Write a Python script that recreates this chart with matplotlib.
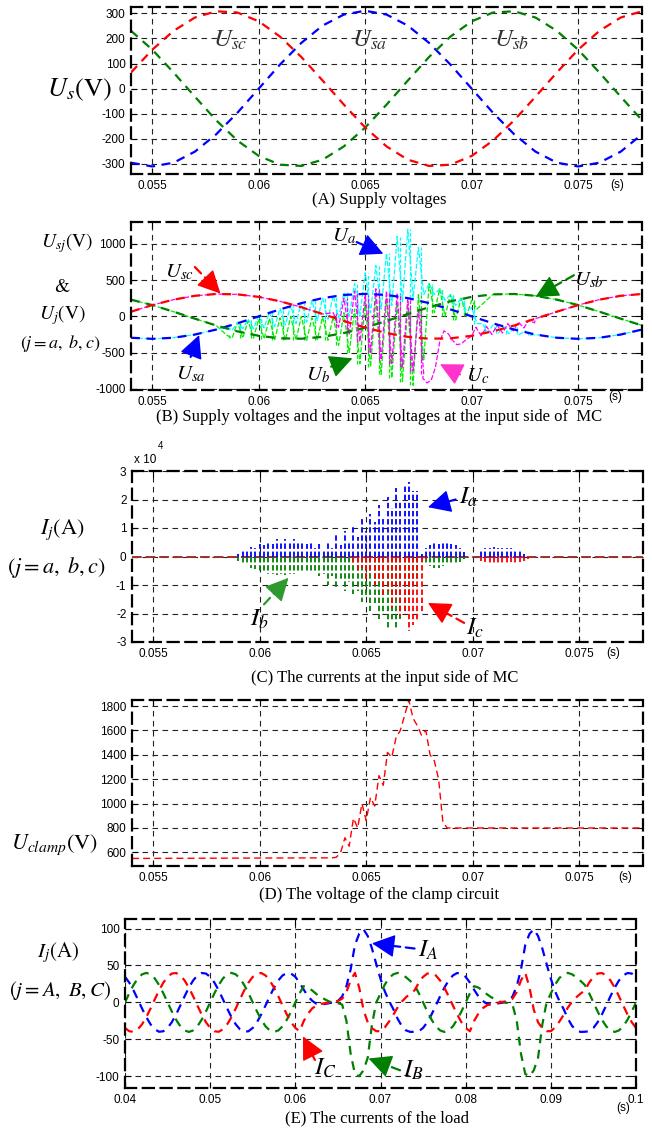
import numpy as np
import matplotlib
matplotlib.use('Agg')
import matplotlib.pyplot as plt

plt.rcParams['font.family'] = ['Liberation Sans', 'DejaVu Sans']
plt.rcParams['mathtext.fontset'] = 'stix'

W, H = 652, 1128

# ---------------- data ----------------
# (A)/(B) supply voltages, one sample per ms from 0.054 s to 0.078 s
t_s = np.linspace(0.054, 0.078, 25)
usa = [-295, -310, -295, -251, -182, -96, 0, 96, 182, 251, 295, 310, 295, 251, 182, 96, 0,
       -96, -182, -251, -295, -310, -295, -251, -182]
usb = [230, 155, 64, -32, -126, -207, -268, -303, -308, -283, -230, -155, -64, 32, 126, 207,
       268, 303, 308, 283, 230, 155, 64, -32, -126]
usc = [64, 155, 230, 283, 308, 303, 268, 207, 126, 32, -64, -155, -230, -283, -308, -303,
       -268, -207, -126, -32, 64, 155, 230, 283, 308]

# (B) switching envelopes of the input voltages (upper / lower), every 0.5 ms
ua_hi = [-150, -90, -40, 10, 60, 110, 150, 190, 220, 250, 290, 330, 450, 600, 700, 870, 1100,
         1200, 950, 450, 380, 300, 250, 120, -100, -120, -140, -150, -200]
ua_lo = [-190, -170, -170, -160, -140, -120, -100, -80, -60, -40, -20, 0, 0, 50, 100, 150, 200,
         250, 300, 300, 220, 150, 80, -100, -220, -230, -240, -250, -260]
ub_hi = [-260, -80, -60, -40, -30, -20, 0, 0, -20, -10, 0, 50, 100, 200, 250, 250, 200, 150,
         300, 450, 380, 300, 250, 220]
ub_lo = [-300, -300, -300, -310, -320, -330, -330, -330, -320, -330, -400, -500, -650, -700,
         -800, -850, -900, -950, -600, 50, 0, -50, 0, 100]
uc_hi = [50, 250, 350, 300, 380, 350, 320, 250, 100]
uc_lo = [-150, -250, -350, -500, -600, -650, -700, -750, -800]
uc_t2 = [0.0677, 0.0679, 0.0681, 0.0683, 0.0685, 0.0687, 0.0689, 0.0691, 0.0693, 0.0695,
         0.0697, 0.0700]
uc_v2 = [-850, -917, -880, -700, -350, -200, -240, -330, -390, -380, -330, -270]
uc_hi3 = [-150, -140, -120, -100, -80, -50]
uc_lo3 = [-270, -250, -230, -200, -160, -90]

# (C) input currents (x 10^4 A), spikes every 0.2 ms
ia = [0.1, 0.25, 0.2, 0.35, 0.3, 0.45, 0.4, 0.55, 0.45, 0.6,
      0.5, 0.6, 0.55, 0.6, 0.5, 0.55, 0.45, 0.5, 0.3, 0.45,
      0.2, 0.5, 0.3, 0.8, 0.4, 0.9, 0.5, 1.1, 0.7, 1.3,
      0.9, 1.5, 1.2, 1.8, 1.4, 2.1, 1.7, 2.4, 2.0, 2.5,
      2.6, 2.3, 2.3, 0.1, 0.3, 0.4, 0.5, 0.45, 0.55, 0.5,
      0.45, 0.4, 0.3, 0.15, 0.0, 0.0, 0.0, 0.2, 0.3, 0.3,
      0.35, 0.3, 0.3, 0.3, 0.3, 0.25, 0.2, 0.1, 0.0]
ib = [-0.15, -0.3, -0.3, -0.4, -0.45, -0.5, -0.55, -0.6, -0.6, -0.65,
      -0.6, -0.65, -0.6, -0.6, -0.55, -0.55, -0.5, -0.55, -0.5, -0.7,
      -0.6, -1.0, -0.7, -1.1, -0.8, -1.2, -0.9, -1.3, -1.2, -1.6,
      -1.4, -1.9, -1.7, -2.2, -2.0, -2.5, -2.3, -2.5, -2.2, -2.0,
      -1.5, -1.0, -0.8, -0.2, -0.3, -0.35, -0.4, -0.4, -0.35, -0.3,
      -0.3, -0.25, -0.2, -0.1, -0.05]
ic = [-0.3, -0.5, -0.4, -0.8, -0.6, -1.0, -0.9, -1.4, -1.2, -1.8,
      -1.5, -2.1, -1.9, -2.6, -2.4, -2.3, -2.0, -0.1, 0, 0,
      0, 0, 0, 0, 0, 0, 0, 0, 0, 0,
      -0.15, -0.2, -0.25, -0.3, -0.25, -0.3, -0.25, -0.2, -0.25, -0.2,
      -0.15, -0.1]
ia_t0, ib_t0, ic_t0 = 0.0590, 0.0590, 0.0644
c_base_t = [0.054, 0.078]
c_base_v = [0, 0]

# (D) clamp voltage
d_t = [0.0540, 0.0634, 0.0636, 0.0638, 0.0640, 0.0642, 0.0644, 0.0646, 0.0648, 0.0650,
       0.0652, 0.0654, 0.0656, 0.0658, 0.0660, 0.0662, 0.0664, 0.0666, 0.0668, 0.0670,
       0.0672, 0.0674, 0.0676, 0.0678, 0.0680, 0.0682, 0.0684, 0.0686, 0.0688, 0.0780]
d_v = [550, 555, 560, 600, 720, 650, 880, 800, 1000, 860,
       1050, 980, 1230, 1150, 1420, 1380, 1540, 1600, 1720, 1850,
       1700, 1640, 1560, 1600, 1400, 1350, 1200, 850, 800, 800]

# (E) load currents, every 0.5 ms from 0.04 s to 0.1 s
t_e = np.linspace(0.04, 0.1, 121)
ia_load = [34.6, 26.8, 16.3, 4.2, -8.3, -20, -29.7, -36.5, -39.8, -39.1,
           -34.6, -26.8, -16.3, -4.2, 8.3, 20, 29.7, 36.5, 39.8, 39.1,
           34.6, 26.8, 16.3, 4.2, -8.3, -20, -29.7, -36.5, -39.8, -39.1,
           -34.6, -26.8, -16.3, -4.2, 8.3, 20, 29.7, 36.5, 39.8, 39.1,
           34.6, 26.8,
           17, 8, 2, -2, -3, -2, -1, 0, 2, 8, 22, 45, 78, 93, 99, 90, 73, 52, 32, 15, 2, -9,
           -22, -32, -38, -40,
           -39.8, -39.1, -34.6, -26.8, -16.3, -4.2, 8.3, 20, 29.7, 36.5, 39.8, 39.1, 34.6, 26.8,
           17, 8, 2, -2, -3, -2, -1, 0, 2, 8, 22, 45, 78, 93, 99, 90, 73, 52, 32, 15, 2, -9,
           -22, -32, -38, -40,
           -39.8, -39.1, -34.6, -26.8, -16.3, -4.2, 8.3, 20, 29.7, 36.5, 39.8, 39.1, 34.6]
ib_load = [0, 12.4, 23.5, 32.4, 38.0, 40, 38.0, 32.4, 23.5, 12.4,
           0, -12.4, -23.5, -32.4, -38.0, -40, -38.0, -32.4, -23.5, -12.4,
           0, 12.4, 23.5, 32.4, 38.0, 40, 38.0, 32.4, 23.5, 12.4,
           0, -12.4, -23.5, -32.4, -38.0, -40, -38.0, -32.4, -23.5, -12.4,
           0, 12.4,
           22, 20, 16, 11, 7, 4, 1, 0, -1, -3, -25, -70, -97, -100, -92, -75, -30, 0, 12, 24,
           33, 38, 40, 38, 34, 29,
           23.5, 12.4, 0, -12.4, -23.5, -32.4, -38.0, -40, -38.0, -32.4, -23.5, -12.4, 0, 12.4,
           22, 20, 16, 11, 7, 4, 1, 0, -1, -3, -25, -70, -97, -100, -92, -75, -30, 0, 12, 24,
           33, 38, 40, 38, 34, 29,
           23.5, 12.4, 0, -12.4, -23.5, -32.4, -38.0, -40, -38.0, -32.4, -23.5, -12.4, 0]
ic_load = [-34.6, -39.1, -39.8, -36.5, -29.7, -20, -8.3, 4.2, 16.3, 26.8,
           34.6, 39.1, 39.8, 36.5, 29.7, 20, 8.3, -4.2, -16.3, -26.8,
           -34.6, -39.1, -39.8, -36.5, -29.7, -20, -8.3, 4.2, 16.3, 26.8,
           34.6, 39.1, 39.8, 36.5, 29.7, 20, 8.3, -4.2, -16.3, -26.8,
           -34.6, -39.1,
           -25, -15, -8, -4, -2, -1, 0, 1, 2, 5, 14, 30, 40, 20, -10, -27, -35, -39, -39, -34,
           -26, -17, -7, 1, 7, 12,
           16.3, 26.8, 34.6, 39.1, 39.8, 36.5, 29.7, 20, 8.3, -4.2, -16.3, -26.8, -34.6, -39.1,
           -25, -15, -8, -4, -2, -1, 0, 1, 2, 5, 14, 30, 40, 20, -10, -27, -35, -39, -39, -34,
           -26, -17, -7, 1, 7, 12,
           16.3, 26.8, 34.6, 39.1, 39.8, 36.5, 29.7, 20, 8.3, -4.2, -16.3, -26.8, -34.6]

x_ticks = [0.055, 0.06, 0.065, 0.07, 0.075]
x_labels = ['0.055', '0.06', '0.065', '0.07', '0.075']
e_ticks = [0.04, 0.05, 0.06, 0.07, 0.08, 0.09, 0.1]
e_labels = ['0.04', '0.05', '0.06', '0.07', '0.08', '0.09', '0.1']

GREEN = '#008000'
SERIF = 'STIXGeneral'


def zigzag(t0, hi, lo, dt=0.0005):
    n = len(hi)
    tk = t0 + dt * np.arange(n)
    tz = np.empty(2 * n)
    vz = np.empty(2 * n)
    tz[0::2] = tk
    tz[1::2] = tk + dt / 2
    vz[0::2] = hi
    vz[1::2] = lo
    return tz, vz


def spikes(ax, t0, hi, lo, color, dt=0.0005):
    # vertical switching strokes between the two envelopes
    tk = t0 + dt * np.arange(len(hi))
    ax.vlines(tk + dt / 4, lo, hi, colors=color, linestyles=(0, (3, 1.5)), linewidth=0.9)


def add_ax(left, top, right, bottom):
    return fig.add_axes([left / W, 1 - bottom / H, (right - left) / W, (bottom - top) / H])


def setup(ax, xlim, ylim, xt, xl, yt, yl):
    ax.set_xlim(xlim)
    ax.set_ylim(ylim)
    ax.set_xticks(xt)
    ax.set_xticklabels(xl)
    ax.set_yticks(yt)
    ax.set_yticklabels(yl)
    ax.grid(True, color='#222222', linestyle=(0, (5, 4)), linewidth=0.8)
    ax.set_axisbelow(True)
    for s in ax.spines.values():
        s.set_linestyle((0, (5, 3)))
        s.set_linewidth(1.6)
    ax.tick_params(direction='in', length=4, labelsize=8.5, top=True, right=True, pad=4)


def ftext(x, y, s, **kw):
    fig.text(x / W, 1 - y / H, s, ha='center', va='center', **kw)


def arrow(ax, start, tip, color):
    ax.annotate('', xy=tip, xytext=start,
                arrowprops=dict(arrowstyle='-', color=color, lw=1.6, linestyle=(0, (4, 2.5)),
                                shrinkA=0, shrinkB=5))
    mid = (start[0] + 0.75 * (tip[0] - start[0]), start[1] + 0.75 * (tip[1] - start[1]))
    ax.annotate('', xy=tip, xytext=mid,
                arrowprops=dict(arrowstyle='-|>,head_length=0.9,head_width=0.45', color=color,
                                lw=1.0, shrinkA=0, shrinkB=0, mutation_scale=16))


fig = plt.figure(figsize=(W / 100, H / 100), dpi=100)
sup_style = dict(linestyle=(0, (4, 3)), linewidth=1.6)

# ---------------- (A) ----------------
axA = add_ax(131, 7, 642, 174)
axA.plot(t_s, usa, color='blue', **sup_style)
axA.plot(t_s, usb, color=GREEN, **sup_style)
axA.plot(t_s, usc, color='red', **sup_style)
setup(axA, (0.054, 0.078), (-340, 325), x_ticks, x_labels,
      [-300, -200, -100, 0, 100, 200, 300], ['-300', '-200', '-100', '0', '100', '200', '300'])
for lab, x in [(r'$U_{sc}$', 0.05865), (r'$U_{sa}$', 0.06522), (r'$U_{sb}$', 0.07187)]:
    axA.text(x, 194, lab, fontsize=18, color='#333333', ha='center', va='center')
ftext(79, 90, r'$U_s$(V)', fontsize=19, family=SERIF)
ftext(617, 185, '(s)', fontsize=8.5)
ftext(379, 200, '(A) Supply voltages', fontsize=12, family='Liberation Serif')

# ---------------- (B) ----------------
axB = add_ax(131, 222, 642, 390)
ta = np.asarray(t_s)
za_t, za_v = zigzag(0.0585, ua_hi, ua_lo)
ua_t = np.concatenate([ta[ta < 0.05849], za_t, ta[ta > 0.07299]])
ua_v = np.concatenate([np.asarray(usa)[ta < 0.05849], za_v, np.asarray(usa)[ta > 0.07299]])
zb_t, zb_v = zigzag(0.0585, ub_hi, ub_lo)
ub_t = np.concatenate([ta[ta < 0.05849], zb_t, ta[ta > 0.07099]])
ub_v = np.concatenate([np.asarray(usb)[ta < 0.05849], zb_v, np.asarray(usb)[ta > 0.07099]])
zc_t, zc_v = zigzag(0.0635, uc_hi, uc_lo)
zc3_t, zc3_v = zigzag(0.0702, uc_hi3, uc_lo3)
uc_t = np.concatenate([ta[ta < 0.06349], zc_t, uc_t2, zc3_t, ta[ta > 0.07299]])
uc_v = np.concatenate([np.asarray(usc)[ta < 0.06349], zc_v, uc_v2, zc3_v,
                       np.asarray(usc)[ta > 0.07299]])
thin = dict(linestyle=(0, (4, 1.5)), linewidth=0.9)
axB.plot(ub_t, ub_v, color='#00ee00', **thin)
spikes(axB, 0.0585, ub_hi, ub_lo, '#00ee00')
axB.plot(ua_t, ua_v, color='#00ffff', **thin)
spikes(axB, 0.0585, ua_hi, ua_lo, '#00ffff')
axB.plot(uc_t, uc_v, color='#ff00ff', **thin)
spikes(axB, 0.0635, uc_hi, uc_lo, '#ff00ff')
axB.plot(t_s, usa, color='blue', **sup_style)
axB.plot(t_s, usb, color=GREEN, **sup_style)
axB.plot(t_s, usc, color='red', **sup_style)
setup(axB, (0.054, 0.078), (-1015, 1300), x_ticks, x_labels,
      [-1000, -500, 0, 500, 1000], ['-1000', '-500', '0', '500', '1000'])
for lab, pos, start, tip, col in [
        (r'$U_a$', (0.0640, 1100), (0.0646, 1023), (0.06585, 863), 'blue'),
        (r'$U_{sc}$', (0.0563, 610), (0.0570, 680), (0.0582, 314), 'red'),
        (r'$U_{sb}$', (0.0755, 497), (0.0748, 566), (0.0730, 268), GREEN),
        (r'$U_{sa}$', (0.0568, -800), (0.0568, -560), (0.0572, -258), 'blue'),
        (r'$U_b$', (0.0628, -807), (0.0634, -693), (0.0644, -578), GREEN),
        (r'$U_c$', (0.0703, -820), (0.06945, -800), (0.06851, -660), '#ff33cc')]:
    arrow(axB, start, tip, col)
    axB.text(pos[0], pos[1], lab, fontsize=15, ha='center', va='center')
ftext(67, 243, r'$U_{sj}$(V)', fontsize=14, family=SERIF)
ftext(62, 287, '&', fontsize=14, family=SERIF)
ftext(62, 315, r'$U_j$(V)', fontsize=14, family=SERIF)
ftext(60, 343, r'$(j=a,\ b,c)$', fontsize=13, family=SERIF)
ftext(615, 397, '(s)', fontsize=8.5)
ftext(379, 417, '(B) Supply voltages and the input voltages at the input side of  MC',
      fontsize=12, family='Liberation Serif')

# ---------------- (C) ----------------
axC = add_ax(132, 471, 643, 642)
axC.plot(c_base_t, c_base_v, color='#a0302a', linestyle=(0, (5, 2)), linewidth=1.4)
vl = dict(linestyles=(0, (3, 1.5)), linewidth=1.3)
axC.vlines(ia_t0 + 0.0002 * np.arange(len(ia)), 0, ia, colors='blue', **vl)
axC.vlines(ib_t0 + 0.0002 * np.arange(len(ib)), 0, ib, colors=GREEN, **vl)
axC.vlines(ic_t0 + 0.0002 * np.arange(len(ic)), 0, ic, colors='red', **vl)
setup(axC, (0.054, 0.078), (-3, 3), x_ticks, x_labels,
      [-3, -2, -1, 0, 1, 2, 3], ['-3', '-2', '-1', '0', '1', '2', '3'])
for lab, pos, start, tip, col in [
        (r'$I_a$', (0.0698, 2.1), (0.0692, 2.0), (0.0679, 1.73), 'blue'),
        (r'$I_b$', (0.0600, -2.2), (0.0602, -1.68), (0.06135, -0.75), '#2e9a2e'),
        (r'$I_c$', (0.0701, -2.5), (0.0696, -2.33), (0.0679, -1.63), 'red')]:
    arrow(axC, start, tip, col)
    axC.text(pos[0], pos[1], lab, fontsize=18, ha='center', va='center')
ftext(145, 460, 'x 10', fontsize=8.5)
ftext(160, 446, '4', fontsize=7)
ftext(62, 530, r'$I_j$(A)', fontsize=16, family=SERIF)
ftext(56, 568, r'$(j=a,\ b,c)$', fontsize=16, family=SERIF)
ftext(613, 653, '(s)', fontsize=8.5)
ftext(385, 678, '(C) The currents at the input side of MC', fontsize=12,
      family='Liberation Serif')

# ---------------- (D) ----------------
axD = add_ax(132, 700, 643, 866)
axD.plot(d_t, d_v, color='red', linestyle=(0, (5, 3)), linewidth=1.0)
setup(axD, (0.054, 0.078), (488, 1850), x_ticks, x_labels,
      [600, 800, 1000, 1200, 1400, 1600, 1800],
      ['600', '800', '1000', '1200', '1400', '1600', '1800'])
ftext(54, 845, r'$U_{clamp}$(V)', fontsize=16, family=SERIF)
ftext(625, 877, '(s)', fontsize=8.5)
ftext(379, 895, '(D) The voltage of the clamp circuit', fontsize=12, family='Liberation Serif')

# ---------------- (E) ----------------
axE = add_ax(125, 919, 636, 1088)
axE.plot(t_e, ia_load, color='blue', **sup_style)
axE.plot(t_e, ib_load, color=GREEN, **sup_style)
axE.plot(t_e, ic_load, color='red', **sup_style)
setup(axE, (0.04, 0.1), (-116, 113), e_ticks, e_labels,
      [-100, -50, 0, 50, 100], ['-100', '-50', '0', '50', '100'])
for lab, pos, start, tip, col in [
        (r'$I_A$', (0.0756, 71), (0.0740, 73), (0.0690, 80), 'blue'),
        (r'$I_B$', (0.0739, -92), (0.0723, -92), (0.0686, -76), GREEN),
        (r'$I_C$', (0.0635, -89), (0.0623, -78), (0.0609, -46), 'red')]:
    arrow(axE, start, tip, col)
    axE.text(pos[0], pos[1], lab, fontsize=18, ha='center', va='center')
ftext(58, 953, r'$I_j$(A)', fontsize=15, family=SERIF)
ftext(60, 990, r'$(j=A,\ B,C)$', fontsize=15, family=SERIF)
ftext(623, 1108, '(s)', fontsize=8.5)
ftext(377, 1118, '(E) The currents of the load', fontsize=12, family='Liberation Serif')

fig.savefig('out.png', dpi=100)
